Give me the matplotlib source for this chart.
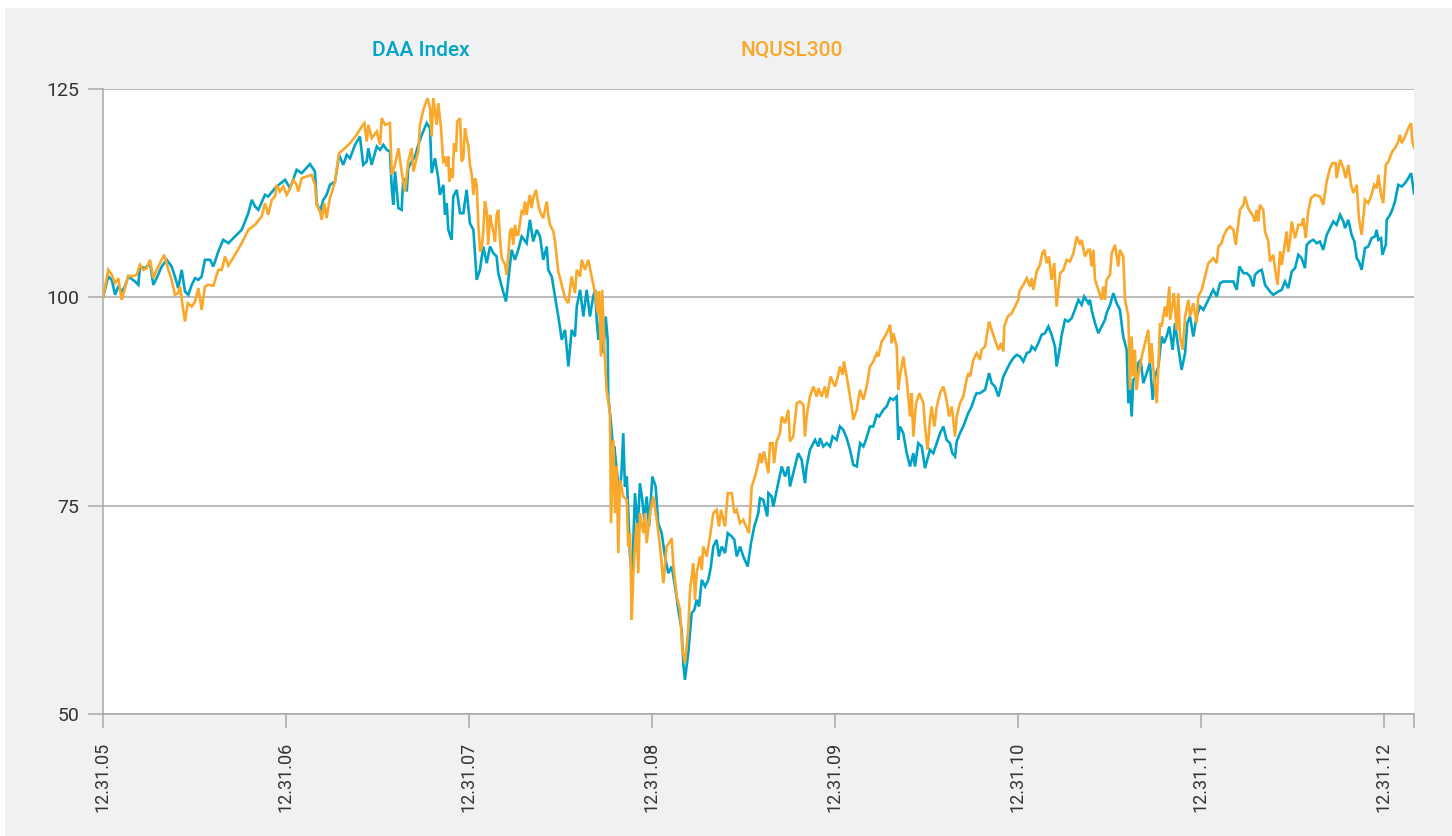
import numpy as np
import matplotlib
matplotlib.use('Agg')
import matplotlib.pyplot as plt
from matplotlib.patches import Rectangle

# time axis: years since 12.31.05, values rebased to 100
daa_pts = [
    (0.000, 100.0), (0.029, 102.5), (0.048, 102.1), (0.066, 100.3), (0.084, 101.3), (0.102, 100.7),
    (0.120, 101.3), (0.138, 102.5), (0.175, 101.9), (0.193, 101.5), (0.202, 103.7), (0.230, 103.5),
    (0.257, 104.1), (0.275, 101.5), (0.293, 102.3), (0.321, 103.7), (0.348, 104.5), (0.375, 103.7),
    (0.393, 102.5), (0.411, 101.1), (0.430, 103.3), (0.448, 100.7), (0.466, 100.3), (0.485, 101.5),
    (0.503, 102.3), (0.521, 102.1), (0.539, 102.5), (0.557, 104.5), (0.585, 104.5), (0.603, 103.7),
    (0.630, 105.5), (0.657, 106.9), (0.685, 106.5), (0.721, 107.3), (0.758, 108.1), (0.794, 110.1),
    (0.813, 111.7), (0.831, 110.9), (0.849, 110.5), (0.885, 112.3), (0.903, 112.1), (0.940, 113.1),
    (0.949, 113.3), (0.995, 114.1), (1.022, 113.1), (1.058, 115.3), (1.086, 114.9), (1.131, 116.0),
    (1.158, 115.1), (1.168, 111.3), (1.186, 110.3), (1.204, 111.7), (1.222, 112.3), (1.240, 113.5),
    (1.268, 113.9), (1.290, 117.1), (1.313, 115.9), (1.332, 117.1), (1.350, 116.7), (1.377, 118.3),
    (1.404, 119.3), (1.422, 115.9), (1.441, 116.3), (1.450, 117.9), (1.468, 115.9), (1.496, 118.1),
    (1.514, 117.7), (1.532, 118.3), (1.550, 117.7), (1.568, 117.5), (1.578, 113.1), (1.586, 111.1),
    (1.596, 115.1), (1.614, 110.7), (1.632, 110.5), (1.641, 114.3), (1.660, 112.7), (1.668, 115.5),
    (1.687, 116.3), (1.705, 116.9), (1.723, 118.3), (1.742, 119.5), (1.769, 120.9), (1.787, 120.3),
    (1.796, 114.9), (1.814, 116.7), (1.832, 114.3), (1.841, 112.3), (1.860, 113.5), (1.869, 109.9),
    (1.878, 111.3), (1.887, 108.1), (1.905, 106.9), (1.914, 112.1), (1.933, 112.9), (1.951, 110.1),
    (1.969, 110.1), (1.987, 112.9), (2.005, 108.9), (2.024, 108.1), (2.042, 102.1), (2.060, 103.3),
    (2.078, 106.1), (2.097, 104.1), (2.115, 106.1), (2.133, 105.3), (2.151, 104.9), (2.160, 102.9),
    (2.179, 101.3), (2.202, 99.5), (2.215, 102.1), (2.233, 105.7), (2.251, 104.5), (2.269, 105.7),
    (2.288, 107.3), (2.315, 106.5), (2.333, 109.3), (2.351, 106.7), (2.370, 108.1), (2.388, 107.3),
    (2.406, 104.5), (2.425, 106.1), (2.433, 103.3), (2.452, 102.5), (2.470, 100.1), (2.488, 97.7),
    (2.507, 94.9), (2.525, 96.1), (2.543, 91.7), (2.561, 96.1), (2.579, 95.3), (2.589, 98.9),
    (2.607, 100.9), (2.625, 97.7), (2.643, 100.9), (2.661, 97.7), (2.679, 100.1),
    (2.689, 100.9), (2.698, 97.3), (2.707, 94.9), (2.721, 98.1), (2.734, 93.3), (2.747, 97.7),
    (2.758, 94.9), (2.761, 88.1), (2.776, 84.9), (2.789, 81.3), (2.794, 82.1), (2.813, 78.1),
    (2.825, 76.5), (2.834, 79.3), (2.843, 83.7), (2.852, 77.3), (2.862, 78.5), (2.870, 74.5),
    (2.880, 68.9), (2.892, 66.9), (2.907, 76.5), (2.922, 72.1), (2.934, 77.7), (2.947, 75.7),
    (2.958, 73.3), (2.971, 76.1), (2.984, 72.5), (3.002, 78.5), (3.020, 77.3), (3.034, 72.9),
    (3.053, 71.7), (3.071, 68.9), (3.089, 66.9), (3.108, 67.7), (3.126, 65.3), (3.144, 62.5),
    (3.162, 60.1), (3.171, 56.1), (3.180, 54.1), (3.198, 57.3), (3.217, 62.1), (3.231, 62.5),
    (3.244, 63.7), (3.257, 62.9), (3.272, 66.1), (3.290, 65.3), (3.308, 66.1), (3.322, 67.7),
    (3.335, 70.1), (3.353, 70.9), (3.366, 68.9), (3.381, 70.1), (3.399, 69.3), (3.414, 71.7),
    (3.436, 71.3), (3.450, 70.9), (3.463, 68.9), (3.481, 70.1), (3.499, 68.9), (3.523, 67.7),
    (3.541, 70.5), (3.559, 72.5), (3.581, 74.1),
    (3.590, 75.9), (3.608, 75.7), (3.630, 73.7), (3.636, 76.5), (3.654, 76.1), (3.663, 74.9),
    (3.690, 77.7), (3.709, 79.7), (3.727, 78.5), (3.745, 79.7), (3.754, 77.3), (3.772, 78.9),
    (3.799, 81.3), (3.818, 80.5), (3.836, 77.7), (3.845, 79.7), (3.863, 81.7), (3.891, 82.9),
    (3.909, 82.1), (3.918, 83.1), (3.936, 82.1), (3.955, 82.5), (3.973, 82.1), (3.987, 83.3),
    (4.009, 82.9), (4.027, 84.5), (4.045, 84.1), (4.064, 83.1), (4.082, 81.7), (4.100, 79.9),
    (4.119, 79.7), (4.137, 82.5), (4.155, 82.1), (4.169, 82.9), (4.191, 84.5), (4.209, 84.5),
    (4.228, 85.9), (4.242, 85.7), (4.264, 86.5), (4.282, 86.9), (4.301, 87.9), (4.319, 87.7),
    (4.337, 88.1), (4.346, 82.9), (4.355, 84.5), (4.373, 83.7), (4.392, 81.3), (4.410, 79.7),
    (4.428, 81.3), (4.437, 79.7), (4.455, 82.5), (4.474, 82.1),
    (4.492, 79.5), (4.519, 81.7), (4.537, 81.3), (4.556, 82.5), (4.574, 83.7), (4.592, 84.5),
    (4.610, 82.9), (4.628, 82.5), (4.641, 81.3), (4.656, 80.9), (4.665, 82.7), (4.683, 83.7),
    (4.701, 84.5), (4.728, 86.1), (4.747, 86.9), (4.765, 88.1), (4.774, 88.5), (4.792, 88.5),
    (4.820, 88.9), (4.842, 90.9), (4.856, 89.7), (4.874, 89.3), (4.893, 88.1), (4.907, 89.3),
    (4.920, 90.5), (4.938, 91.3), (4.956, 92.1), (4.974, 92.7), (4.993, 93.1), (5.011, 92.9),
    (5.029, 92.3), (5.048, 93.3), (5.066, 93.5), (5.075, 94.1), (5.093, 93.7), (5.111, 94.5),
    (5.129, 95.5), (5.148, 95.7), (5.166, 96.5), (5.184, 95.5), (5.202, 94.1), (5.211, 91.7),
    (5.230, 94.1), (5.239, 95.5), (5.257, 97.3), (5.275, 97.1), (5.293, 97.5), (5.311, 98.5),
    (5.330, 99.7), (5.348, 99.1), (5.362, 100.1), (5.384, 99.3),
    (5.393, 99.7), (5.402, 98.5), (5.421, 96.9), (5.439, 95.7), (5.457, 96.5), (5.475, 97.3),
    (5.484, 98.1), (5.503, 99.1), (5.521, 100.5), (5.539, 99.3), (5.557, 98.5), (5.575, 95.3),
    (5.594, 93.7), (5.603, 87.3), (5.612, 89.7), (5.621, 85.7), (5.630, 90.1), (5.648, 90.5),
    (5.657, 92.1), (5.670, 92.5), (5.685, 89.7), (5.703, 90.9), (5.721, 92.1), (5.736, 87.7),
    (5.749, 90.5), (5.767, 91.7), (5.785, 95.3), (5.798, 94.5), (5.812, 95.3), (5.827, 96.5),
    (5.845, 93.7), (5.858, 96.9), (5.870, 94.9), (5.894, 91.3), (5.913, 93.3), (5.925, 96.9),
    (5.940, 97.7), (5.958, 95.3), (5.976, 97.7), (5.995, 98.9), (6.013, 98.5), (6.031, 99.3),
    (6.049, 100.1), (6.067, 100.9), (6.086, 100.1), (6.104, 101.7), (6.122, 101.9), (6.140, 101.9),
    (6.177, 101.9), (6.195, 100.9), (6.210, 103.7), (6.232, 102.9), (6.250, 102.9), (6.268, 102.5),
    (6.286, 101.3),
    (6.295, 102.7), (6.313, 103.1), (6.332, 103.3), (6.350, 101.5), (6.377, 100.7), (6.395, 100.3),
    (6.423, 100.7), (6.441, 100.9), (6.459, 101.9), (6.477, 101.1), (6.496, 103.1), (6.514, 103.5),
    (6.532, 105.1), (6.550, 104.7), (6.568, 103.5), (6.578, 106.3), (6.596, 106.7), (6.614, 106.9),
    (6.632, 106.5), (6.650, 106.7), (6.668, 105.7), (6.687, 107.5), (6.705, 108.3), (6.723, 109.1),
    (6.741, 108.7), (6.760, 109.9), (6.778, 109.1), (6.787, 108.3), (6.805, 109.3), (6.823, 107.5),
    (6.838, 106.7), (6.851, 104.7), (6.863, 104.3), (6.878, 103.3), (6.896, 105.9), (6.914, 106.1),
    (6.932, 107.1), (6.951, 107.3), (6.960, 108.1), (6.969, 106.9), (6.984, 107.1), (6.991, 105.1),
    (7.010, 106.3), (7.015, 109.3), (7.033, 109.9), (7.045, 110.5), (7.060, 111.5), (7.078, 113.5),
    (7.097, 113.3), (7.115, 113.7), (7.133, 114.3), (7.148, 114.9), (7.155, 113.9), (7.164, 112.5),
]

nq_pts = [
    (0.000, 100.0), (0.029, 103.3), (0.048, 102.7), (0.066, 101.7), (0.084, 102.3), (0.102, 99.7),
    (0.120, 101.1), (0.138, 102.6), (0.157, 102.5), (0.184, 102.7), (0.202, 103.9), (0.220, 103.3),
    (0.239, 103.5), (0.257, 104.5), (0.275, 102.3), (0.293, 103.3), (0.311, 104.1), (0.335, 105.1),
    (0.357, 103.3), (0.375, 102.1), (0.393, 100.3), (0.411, 100.5), (0.421, 101.3), (0.433, 99.3),
    (0.448, 97.1), (0.463, 99.3), (0.485, 98.9), (0.503, 99.5), (0.521, 101.1), (0.539, 98.5),
    (0.557, 101.3), (0.575, 101.5), (0.603, 101.4), (0.630, 103.3), (0.649, 103.3), (0.667, 104.9),
    (0.685, 103.8), (0.721, 105.1), (0.758, 106.5), (0.794, 108.1), (0.831, 108.7), (0.867, 109.7),
    (0.885, 111.3), (0.903, 109.9), (0.922, 111.7), (0.940, 112.1),
    (0.949, 113.5), (0.967, 112.7), (0.985, 113.3), (1.004, 112.3), (1.022, 113.1), (1.040, 114.1),
    (1.058, 113.5), (1.067, 112.7), (1.086, 114.3), (1.113, 114.5), (1.140, 114.7), (1.158, 113.5),
    (1.168, 111.1), (1.186, 110.3), (1.195, 109.3), (1.209, 111.3), (1.222, 109.5), (1.240, 111.9),
    (1.268, 113.9), (1.290, 117.3), (1.322, 117.9), (1.350, 118.5), (1.386, 119.5), (1.414, 120.5),
    (1.428, 120.9), (1.441, 118.7), (1.450, 120.7), (1.468, 119.1), (1.496, 119.9), (1.514, 118.3),
    (1.523, 121.5), (1.541, 120.7), (1.568, 120.9), (1.578, 114.7), (1.596, 115.9), (1.614, 117.9),
    (1.632, 115.1), (1.650, 112.7), (1.668, 116.3), (1.687, 117.9), (1.696, 115.1), (1.723, 117.5),
    (1.732, 120.7), (1.750, 122.5), (1.774, 123.9), (1.787, 122.7), (1.796, 119.3), (1.805, 123.9),
    (1.823, 120.7), (1.832, 123.3), (1.847, 120.3), (1.860, 116.1),
    (1.869, 116.9), (1.878, 115.7), (1.887, 116.9), (1.892, 113.9), (1.900, 115.5), (1.911, 114.3),
    (1.918, 118.5), (1.929, 117.5), (1.936, 121.1), (1.951, 121.5), (1.960, 116.3), (1.969, 116.7),
    (1.978, 120.3), (1.987, 119.1), (1.996, 118.3), (2.005, 115.9), (2.015, 114.7), (2.024, 112.3),
    (2.033, 114.3), (2.042, 113.5), (2.051, 108.7), (2.060, 105.5), (2.069, 105.9), (2.078, 107.9),
    (2.087, 111.5), (2.097, 110.3), (2.105, 106.3), (2.115, 109.9), (2.124, 108.7), (2.133, 107.9),
    (2.142, 106.7), (2.151, 109.9), (2.160, 110.5), (2.169, 107.1), (2.179, 104.7), (2.197, 103.9),
    (2.206, 102.7), (2.215, 105.1), (2.224, 107.9), (2.233, 108.3), (2.242, 106.3), (2.251, 108.7),
    (2.261, 107.5), (2.269, 107.5), (2.288, 110.3), (2.297, 110.1), (2.306, 111.5), (2.315, 109.9),
    (2.324, 111.3), (2.333, 112.3), (2.342, 110.7), (2.351, 111.9), (2.366, 112.9), (2.379, 111.1),
    (2.388, 110.3), (2.406, 109.5), (2.425, 111.5), (2.433, 109.9), (2.443, 108.7), (2.461, 107.9),
    (2.470, 106.7), (2.488, 103.1), (2.507, 101.5), (2.525, 99.9), (2.543, 99.3), (2.561, 102.5),
    (2.579, 100.5), (2.589, 103.3), (2.607, 102.5), (2.616, 104.5), (2.634, 103.3), (2.652, 104.5),
    (2.670, 102.5),
    (2.689, 100.5), (2.703, 98.1), (2.710, 100.7), (2.721, 92.9), (2.728, 100.9), (2.739, 94.1),
    (2.752, 88.9), (2.770, 86.1), (2.776, 72.9), (2.789, 82.9), (2.798, 74.1), (2.807, 79.7),
    (2.816, 69.3), (2.825, 78.1), (2.843, 76.1), (2.862, 75.7), (2.870, 70.1), (2.880, 71.7),
    (2.889, 61.3), (2.898, 66.9), (2.907, 70.1), (2.916, 72.9), (2.925, 66.9), (2.934, 74.1),
    (2.953, 71.7), (2.962, 74.1), (2.971, 70.5), (2.989, 74.1), (3.007, 76.1), (3.026, 73.3),
    (3.044, 70.1), (3.062, 65.7), (3.080, 70.1), (3.093, 70.5), (3.108, 71.1), (3.116, 68.1),
    (3.135, 64.1), (3.153, 62.5), (3.166, 57.7), (3.180, 56.1), (3.198, 60.1), (3.208, 64.9),
    (3.226, 68.1), (3.235, 63.7), (3.244, 66.9), (3.262, 68.9), (3.272, 67.3), (3.280, 70.1),
    (3.299, 68.9), (3.317, 71.3), (3.335, 74.1), (3.353, 74.5), (3.366, 72.5), (3.377, 74.5),
    (3.399, 72.5), (3.414, 76.5), (3.436, 76.5), (3.450, 74.1), (3.463, 74.5), (3.481, 72.9),
    (3.499, 73.3), (3.530, 71.7), (3.545, 77.3), (3.563, 78.5), (3.581, 80.1),
    (3.590, 81.3), (3.599, 80.1), (3.612, 81.5), (3.623, 80.3), (3.636, 78.9), (3.645, 82.5),
    (3.659, 82.5), (3.667, 80.1), (3.681, 82.7), (3.699, 83.7), (3.709, 85.7), (3.727, 84.9),
    (3.745, 86.5), (3.754, 82.7), (3.772, 83.3), (3.791, 87.3), (3.809, 87.5), (3.827, 87.1),
    (3.836, 83.3), (3.845, 85.7), (3.863, 88.1), (3.882, 89.3), (3.900, 88.1), (3.909, 89.1),
    (3.927, 88.1), (3.945, 89.3), (3.955, 87.9), (3.976, 90.5), (3.991, 89.7), (4.000, 89.3),
    (4.018, 90.7), (4.027, 91.7), (4.042, 90.7), (4.049, 92.3), (4.064, 90.5), (4.073, 89.3),
    (4.091, 86.9), (4.100, 85.3), (4.119, 86.5), (4.137, 88.9), (4.155, 87.7), (4.173, 89.3),
    (4.191, 91.7), (4.209, 92.3), (4.228, 93.3), (4.237, 92.9), (4.255, 94.7), (4.273, 95.3),
    (4.291, 96.1), (4.301, 96.7), (4.310, 94.5), (4.319, 95.7), (4.337, 94.1), (4.346, 88.9),
    (4.355, 90.5), (4.373, 92.9), (4.392, 90.1), (4.410, 85.7), (4.419, 88.5), (4.428, 83.3),
    (4.443, 87.3), (4.461, 88.5), (4.483, 87.3),
    (4.492, 84.5), (4.506, 81.7), (4.519, 85.3), (4.528, 86.9), (4.543, 84.5), (4.556, 86.9),
    (4.574, 88.5), (4.592, 89.3), (4.610, 87.7), (4.623, 85.7), (4.638, 86.9), (4.656, 83.3),
    (4.665, 85.7), (4.683, 87.3), (4.701, 88.1), (4.719, 90.1), (4.728, 90.9), (4.738, 90.5),
    (4.756, 92.5), (4.774, 93.3), (4.792, 92.5), (4.801, 93.7), (4.820, 94.1), (4.842, 97.1),
    (4.856, 96.1), (4.874, 94.9), (4.893, 93.7), (4.907, 94.5), (4.920, 93.5), (4.925, 96.5),
    (4.944, 97.7), (4.966, 98.1), (4.984, 98.9), (5.002, 99.7), (5.007, 100.7), (5.029, 101.5),
    (5.048, 102.3), (5.066, 101.3), (5.075, 102.3), (5.084, 100.9), (5.102, 103.1), (5.120, 103.9),
    (5.133, 105.3), (5.144, 105.7), (5.157, 104.1), (5.169, 104.9), (5.184, 102.1), (5.198, 104.1),
    (5.211, 98.9), (5.230, 102.9), (5.248, 103.3), (5.266, 104.5), (5.284, 104.3), (5.303, 105.3),
    (5.321, 107.3), (5.339, 106.3), (5.348, 106.9), (5.366, 104.9), (5.384, 105.7),
    (5.393, 105.7), (5.402, 103.7), (5.412, 105.7), (5.421, 102.1), (5.439, 100.9), (5.457, 99.7),
    (5.466, 101.3), (5.475, 99.7), (5.484, 102.1), (5.503, 102.7), (5.512, 105.3), (5.530, 106.3),
    (5.548, 103.7), (5.557, 105.7), (5.575, 104.9), (5.585, 99.7), (5.603, 97.7), (5.612, 88.9),
    (5.621, 95.3), (5.630, 90.5), (5.639, 93.7), (5.648, 88.9), (5.657, 90.5), (5.676, 92.9),
    (5.694, 94.5), (5.712, 96.1), (5.721, 92.1), (5.730, 94.5), (5.740, 91.3), (5.758, 87.3),
    (5.767, 91.7), (5.776, 96.9), (5.785, 96.5), (5.803, 98.9), (5.812, 97.7), (5.827, 101.3),
    (5.831, 97.3), (5.845, 99.3), (5.852, 100.5), (5.867, 96.1), (5.876, 100.5), (5.885, 95.3),
    (5.900, 93.7), (5.913, 97.7), (5.931, 99.7), (5.940, 97.7), (5.958, 99.3), (5.976, 96.9),
    (5.985, 100.1), (6.004, 100.9), (6.022, 102.5), (6.040, 104.1), (6.067, 104.7), (6.086, 104.1),
    (6.095, 106.1), (6.113, 106.5), (6.122, 107.3), (6.140, 108.1), (6.158, 108.5), (6.177, 108.1),
    (6.190, 106.3), (6.204, 108.9), (6.213, 110.5), (6.232, 111.1), (6.240, 112.1), (6.258, 110.7),
    (6.268, 110.3), (6.286, 109.7),
    (6.295, 109.1), (6.304, 110.5), (6.313, 109.1), (6.322, 111.1), (6.340, 110.5), (6.350, 107.9),
    (6.368, 106.7), (6.377, 104.3), (6.395, 105.1), (6.404, 103.5), (6.419, 101.5), (6.432, 105.5),
    (6.441, 103.9), (6.455, 105.9), (6.468, 107.9), (6.477, 105.5), (6.486, 106.7), (6.496, 109.1),
    (6.514, 107.1), (6.532, 108.7), (6.550, 108.7), (6.559, 109.5), (6.572, 107.1), (6.586, 110.3),
    (6.601, 111.9), (6.623, 112.3), (6.650, 112.1), (6.668, 111.1), (6.687, 113.9), (6.705, 115.5),
    (6.718, 116.1), (6.736, 116.1), (6.741, 114.3), (6.760, 116.5), (6.778, 115.5), (6.791, 114.3),
    (6.805, 115.9), (6.820, 113.5), (6.833, 112.5), (6.851, 113.5), (6.863, 109.5), (6.878, 107.5),
    (6.896, 111.7), (6.914, 111.3), (6.932, 112.3), (6.947, 113.5), (6.960, 113.1), (6.969, 114.7),
    (6.984, 112.3), (6.996, 111.3), (7.010, 115.9), (7.024, 116.3), (7.045, 117.5), (7.060, 117.9),
    (7.078, 118.7), (7.087, 119.5), (7.097, 118.5), (7.111, 119.1), (7.133, 120.3), (7.148, 120.9),
    (7.155, 118.7), (7.164, 118.0),
]

series_names = ['DAA Index', 'NQUSL300']
series_colors = ['#00a3c6', '#f9a82b']
year_ticks = [0, 1, 2, 3, 4, 5, 6, 7]
year_labels = ['12.31.05', '12.31.06', '12.31.07', '12.31.08',
               '12.31.09', '12.31.10', '12.31.11', '12.31.12']
x_end = 7.164
y_ticks = [50, 75, 100, 125]

plt.rcParams['font.family'] = ['Roboto', 'DejaVu Sans']

W, H = 1452, 836
fig = plt.figure(figsize=(W / 100, H / 100), dpi=100)
fig.patch.set_facecolor('white')
fig.patches.append(Rectangle((5 / W, 0), 1, 1 - 8 / H, transform=fig.transFigure,
                             facecolor='#f0f1f3', edgecolor='none', zorder=-10))

ax = fig.add_axes([103 / W, 1 - 714 / H, 1311 / W, 625 / H])
ax.set_facecolor('white')

t_daa, daa = np.array(daa_pts).T
t_nq, nq = np.array(nq_pts).T
ax.plot(t_daa, daa, color=series_colors[0], lw=1.9, solid_joinstyle='miter', zorder=3)
ax.plot(t_nq, nq, color=series_colors[1], lw=1.9, solid_joinstyle='miter', zorder=4)

ax.set_xlim(0, x_end)
ax.set_ylim(50, 125)
ax.set_yticks(y_ticks)
ax.set_yticklabels([str(v) for v in y_ticks])
ax.set_xticks(year_ticks + [x_end])
ax.set_xticklabels(year_labels + [''])

ax.yaxis.grid(True, color='#a8a8a8', lw=1.1)
ax.set_axisbelow(True)
for s in ['top', 'right']:
    ax.spines[s].set_visible(False)
for s in ['left', 'bottom']:
    ax.spines[s].set_color('#a8a8a8')
    ax.spines[s].set_linewidth(1.1)

ax.tick_params(axis='y', length=11, width=1.1, color='#a8a8a8', labelsize=14,
               labelcolor='#333333', pad=6)
ax.tick_params(axis='x', length=10, width=1.1, color='#a8a8a8', labelsize=13,
               labelcolor='#333333', labelrotation=90, pad=10)

fig.text(421 / W, 1 - 50 / H, series_names[0], color=series_colors[0], fontsize=15,
         fontweight='medium', ha='center', va='center')
fig.text(792 / W, 1 - 50 / H, series_names[1], color=series_colors[1], fontsize=15,
         fontweight='medium', ha='center', va='center')

fig.savefig('out.png', dpi=100, facecolor=fig.get_facecolor())
